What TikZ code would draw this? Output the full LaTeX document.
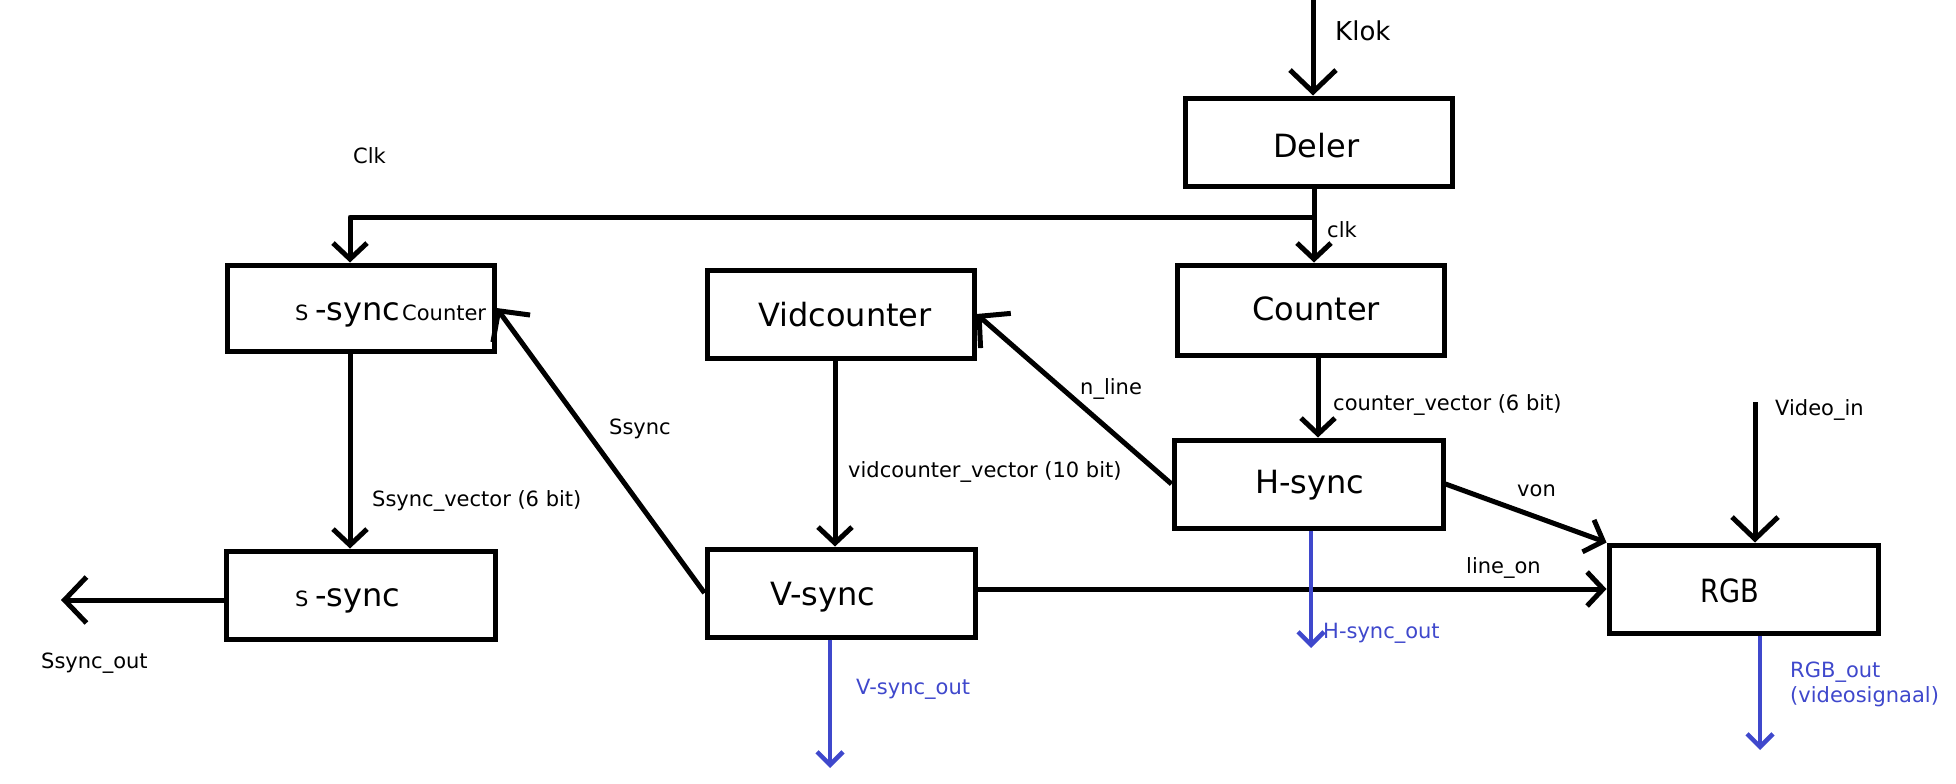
\documentclass[tikz,border=0pt]{standalone}
\usepackage{fontspec}
\setmainfont{DejaVu Sans}
\newfontfamily\rgbfont[FakeStretch=0.85]{DejaVu Sans}
\usetikzlibrary{arrows.meta}
\definecolor{paintblue}{RGB}{63,72,204}
\begin{document}
\begin{tikzpicture}[x=1pt,y=-1pt,
  box/.style={draw, line width=5pt, rectangle, inner sep=0pt},
  wire/.style={line width=5pt, line join=round},
  bwire/.style={line width=4.5pt, draw=paintblue, -{Straight Barb[length=13pt,width=26pt]}},
  arrbig/.style={-{Straight Barb[length=22pt,width=46pt]}},
  arrmed/.style={-{Straight Barb[length=16pt,width=34pt]}},
  lbl/.style={font=\fontsize{21}{25}\selectfont, anchor=base west, inner sep=0pt},
  blbl/.style={lbl, text=paintblue},
  btxt/.style={font=\fontsize{32}{38}\selectfont, anchor=base west, inner sep=0pt}]
\useasboundingbox (0,0) rectangle (1956,784);

% boxes
\node[box, minimum width=267pt, minimum height=88pt] (deler)   at (1319,142) {};
\node[box, minimum width=267pt, minimum height=90pt] (counter) at (1310.5,310) {};
\node[box, minimum width=269pt, minimum height=88pt] (hsync)   at (1308.5,484) {};
\node[box, minimum width=269pt, minimum height=88pt] (rgb)     at (1743.5,589) {};
\node[box, minimum width=267pt, minimum height=88pt] (vidc)    at (840.5,314) {};
\node[box, minimum width=268pt, minimum height=88pt] (vsync)   at (841,593) {};
\node[box, minimum width=267pt, minimum height=86pt] (ssc)     at (360.5,308) {};
\node[box, minimum width=269pt, minimum height=88pt] (ssync)   at (360.5,595) {};

% box texts
\node[btxt] (delert) at (1273,157) {Deler};
\node[btxt] (countert) at (1252,320) {Counter};
\node[btxt] (hsynct) at (1255,493) {H-sync};
\node[btxt] (rgbt) at (1700,602) {\rgbfont RGB};
\node[btxt] (vidct) at (758,326) {Vidcounter};
\node[btxt] (vsynct) at (770,605) {V-sync};
\node[lbl] (ssct1) at (295,320) {S};
\node[btxt] (ssct2) at (315,320) {-sync};
\node[lbl] (ssct3) at (402,320) {Counter};
\node[lbl] (ssynct1) at (295,606) {S};
\node[btxt] (ssynct2) at (315,606) {-sync};

% labels
\node[lbl, font=\fontsize{26}{31}\selectfont] (klok) at (1335,41) {Klok};
\node[lbl] (clkl) at (1327,237) {clk};
\node[lbl] (Clkl) at (353,163) {Clk};
\node[lbl] (ssoutl) at (41,668) {Ssync\_out};
\node[lbl] (ssvecl) at (372,506) {Ssync\_vector (6 bit)};
\node[lbl] (ssyncl) at (609,434) {Ssync};
\node[lbl] (vidvecl) at (848,477) {vidcounter\_vector (10 bit)};
\node[lbl] (nlinel) at (1080,394) {n\_line};
\node[lbl] (cvecl) at (1333,410) {counter\_vector (6 bit)};
\node[lbl] (vonl) at (1517,496) {von};
\node[lbl] (lineonl) at (1466,573) {line\_on};
\node[lbl] (vinl) at (1775,415) {Video\_in};
\node[blbl] (houtl) at (1323,638) {H-sync\_out};
\node[blbl] (voutl) at (856,694) {V-sync\_out};
\node[blbl] (routl1) at (1790,677) {RGB\_out};
\node[blbl] (routl2) at (1790,702) {(videosignaal)};

% black connectors
\coordinate (klokin) at (1313,0);
\draw[wire, arrbig] (klokin) -- (klokin |- deler.north);
\coordinate (cx) at (1314,217);
\draw[wire, arrmed] (deler.south -| cx) -- (counter.north -| cx);
\coordinate (clkx) at (350,0);
\draw[wire, arrmed] (cx) -| (ssc.north -| clkx);
\draw[wire, arrmed] (ssc.south -| clkx) -- (ssync.north -| clkx);
\coordinate (sout) at (61,600);
\draw[wire, arrbig] (ssync.west |- sout) -- (sout);
\draw[wire, arrbig] (vsync.west) -- (ssc.east);
\coordinate (vcx) at (835,0);
\draw[wire, arrmed] (vidc.south -| vcx) -- (vsync.north -| vcx);
\draw[wire, arrbig] (hsync.west) -- (vidc.east);
\coordinate (chx) at (1318,0);
\draw[wire, arrmed] (counter.south -| chx) -- (hsync.north -| chx);
\draw[wire, arrmed] (hsync.east) -- (rgb.north west);
\draw[wire, arrmed] (rgb.west -| vsync.east) -- (rgb.west);
\coordinate (vin) at (1755,402);
\draw[wire, arrbig] (vin) -- (vin |- rgb.north);

% blue outputs
\coordinate (hout) at (1311,648);
\draw[bwire] (hsync.south -| hout) -- (hout);
\coordinate (vout) at (830,768);
\draw[bwire] (vsync.south -| vout) -- (vout);
\coordinate (rout) at (1760,750);
\draw[bwire] (rgb.south -| rout) -- (rout);
\end{tikzpicture}
\end{document}
